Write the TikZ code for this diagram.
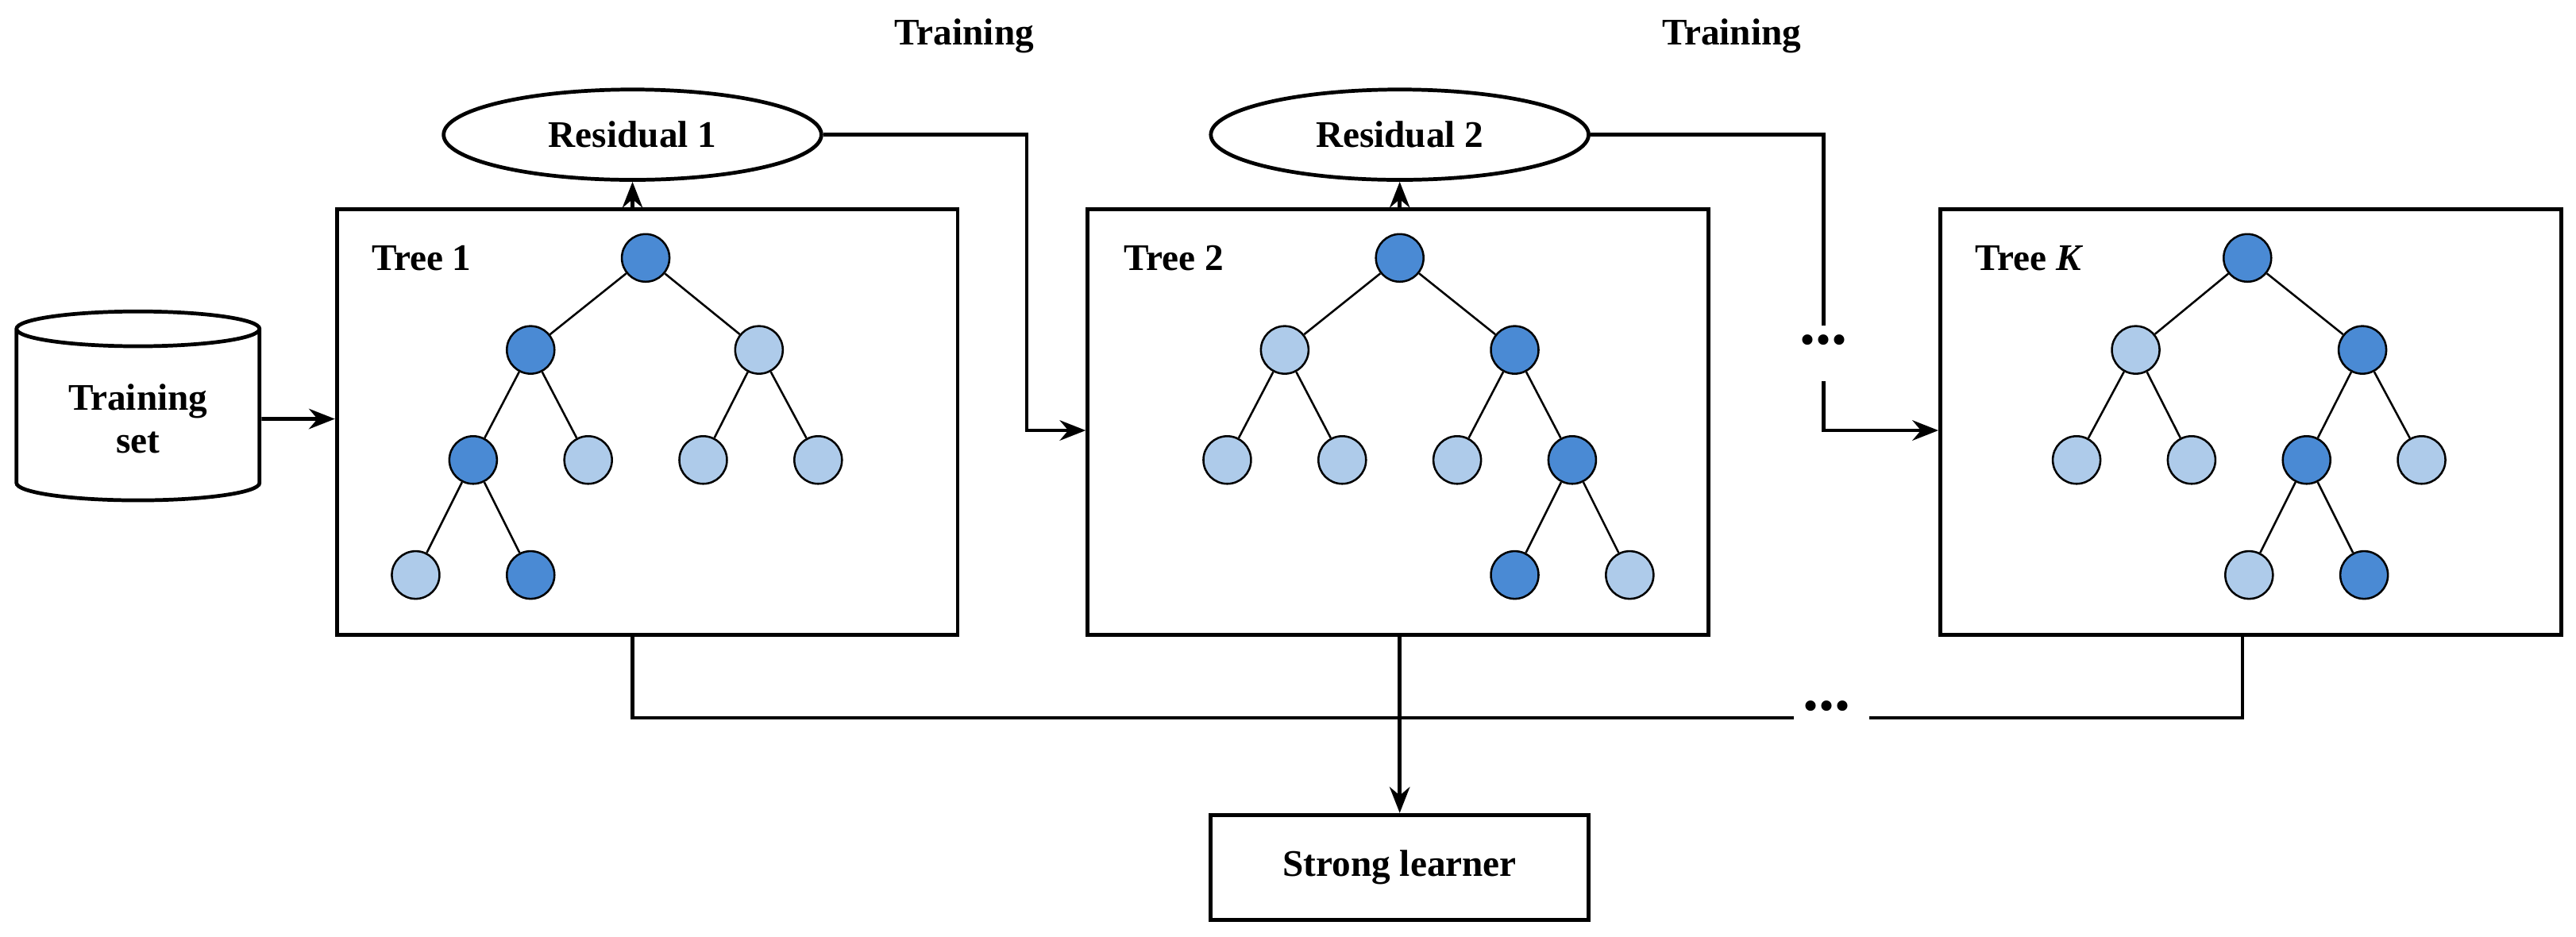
\documentclass[tikz,border=0pt]{standalone}
\usepackage{fontspec}
\setmainfont{Liberation Serif}
\usetikzlibrary{arrows.meta, positioning, shapes.geometric}

\begin{document}
\begin{tikzpicture}[x=0.02cm, y=-0.02cm, font=\fontsize{13}{15}\selectfont\bfseries,
  dk/.style = {circle, draw, line width=0.7pt, fill={rgb,255:red,74;green,138;blue,212}, minimum size=0.58cm, inner sep=0pt},
  lt/.style = {circle, draw, line width=0.7pt, fill={rgb,255:red,174;green,203;blue,234}, minimum size=0.58cm, inner sep=0pt},
  box/.style = {draw, line width=1.3pt, minimum width=7.56cm, minimum height=5.18cm},
  res/.style = {ellipse, draw, line width=1.3pt, minimum width=4.6cm, minimum height=1.1cm},
  con/.style = {line width=1.3pt},
  dots/.style = {font=\fontsize{22}{22}\selectfont\bfseries}]
  \useasboundingbox (0,0) rectangle (1568,570);

  % data and boxes
  \node (data) [cylinder, shape border rotate=90, aspect=0.22, draw, line width=1.3pt, minimum width=2.96cm, minimum height=2.3cm, align=center] at (84,255) {Training\\set};
  \node (t1) [box] at (394,257) {};
  \node (t2) [box] at (851,257) {};
  \node (tk) [box] at (1370,257) {};
  \node (r1) [res] at (385,82) {Residual 1};
  \node (r2) [res] at (852,82) {Residual 2};
  \node (sl) [draw, con, minimum width=4.6cm, minimum height=1.28cm] at (852,528) {Strong learner};
  \node at (587,22) {Training};
  \node at (1054,22) {Training};
  \node [anchor=west] at (220,157) {Tree 1};
  \node [anchor=west] at (678,157) {Tree 2};
  \node [anchor=west] at (1196,157) {Tree \textit{K}};
  \node (d1) [dots] at (1110,207) {...};
  \node (d2) [dots] at (1112,430) {...};
  \coordinate (c1) at (1110,198);
  \coordinate (c2) at (1110,232);
  \coordinate (c3) at (1092,437);
  \coordinate (c4) at (1138,437);

  % tree 1
  \node (a0) [dk] at (393,157) {};
  \node (a1) [dk] at (323,213) {};
  \node (a2) [lt] at (462,213) {};
  \node (a3) [dk] at (288,280) {};
  \node (a4) [lt] at (358,280) {};
  \node (a5) [lt] at (428,280) {};
  \node (a6) [lt] at (498,280) {};
  \node (a7) [lt] at (253,350) {};
  \node (a8) [dk] at (323,350) {};
  \draw [line width=0.7pt] (a0) -- (a1) (a0) -- (a2) (a1) -- (a3) (a1) -- (a4) (a2) -- (a5) (a2) -- (a6) (a3) -- (a7) (a3) -- (a8);

  % tree 2
  \node (b0) [dk] at (852,157) {};
  \node (b1) [lt] at (782,213) {};
  \node (b2) [dk] at (922,213) {};
  \node (b3) [lt] at (747,280) {};
  \node (b4) [lt] at (817,280) {};
  \node (b5) [lt] at (887,280) {};
  \node (b6) [dk] at (957,280) {};
  \node (b7) [dk] at (922,350) {};
  \node (b8) [lt] at (992,350) {};
  \draw [line width=0.7pt] (b0) -- (b1) (b0) -- (b2) (b1) -- (b3) (b1) -- (b4) (b2) -- (b5) (b2) -- (b6) (b6) -- (b7) (b6) -- (b8);

  % tree K
  \node (k0) [dk] at (1368,157) {};
  \node (k1) [lt] at (1300,213) {};
  \node (k2) [dk] at (1438,213) {};
  \node (k3) [lt] at (1264,280) {};
  \node (k4) [lt] at (1334,280) {};
  \node (k5) [dk] at (1404,280) {};
  \node (k6) [lt] at (1474,280) {};
  \node (k7) [lt] at (1369,350) {};
  \node (k8) [dk] at (1439,350) {};
  \draw [line width=0.7pt] (k0) -- (k1) (k0) -- (k2) (k1) -- (k3) (k1) -- (k4) (k2) -- (k5) (k2) -- (k6) (k5) -- (k7) (k5) -- (k8);

  % connectors
  \path [-{Stealth[length=9pt,width=7pt]}, con]
    (data) edge (data -| t1.west)
    (t1.north -| r1) edge (r1)
    (t2.north -| r2) edge (r2)
    (t2.south -| sl) edge (sl);
  \draw [-{Stealth[length=9pt,width=7pt]}, con] (r1.east) -| (625,262) -- (t2.west |- 0,262);
  \draw [con] (r2.east) -| (c1);
  \draw [-{Stealth[length=9pt,width=7pt]}, con] (c2) |- (tk.west |- 0,262);
  \draw [con] (t1.south -| r1) |- (c3);
  \draw [con] (c4) -| (tk.south -| 1365,0);
\end{tikzpicture}
\end{document}
